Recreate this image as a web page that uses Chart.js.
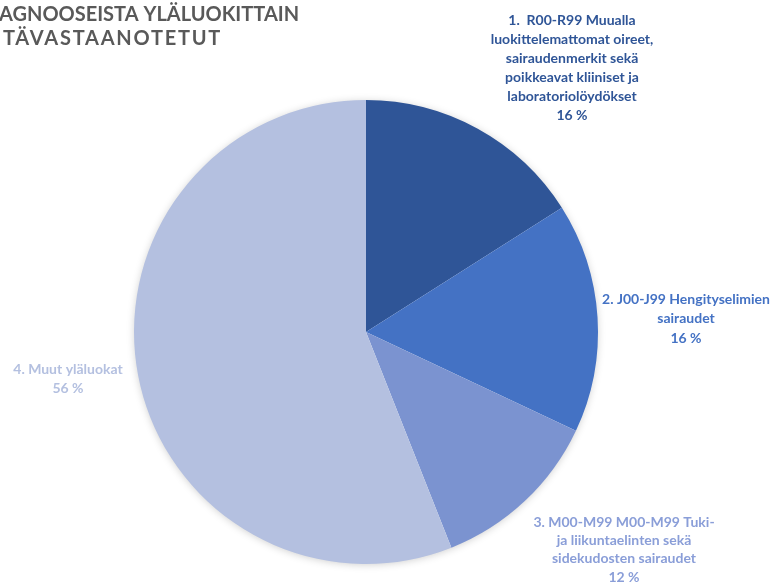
<!DOCTYPE html>
<html>
<head>
<meta charset="utf-8">
<script src="https://cdn.jsdelivr.net/npm/chart.js@4"></script>
<style>
  html, body { margin: 0; padding: 0; background: #ffffff; }
  #wrap { position: relative; width: 781px; height: 582px; overflow: hidden; }
</style>
</head>
<body>
<div id="wrap"><canvas id="diagChart" width="781" height="582"></canvas></div>
<script>
// Diagnoosit yläluokittain (%)
const categories = [
    ['1.  R00-R99 Muualla', 'luokittelemattomat oireet,', 'sairaudenmerkit sekä', 'poikkeavat kliiniset ja', 'laboratoriolöydökset'],
    ['2. J00-J99 Hengityselimien', 'sairaudet'],
    ['3. M00-M99 M00-M99 Tuki-', 'ja liikuntaelinten sekä', 'sidekudosten sairaudet'],
    ['4. Muut yläluokat']
];
const shares = [16, 16, 12, 56];
const sliceColors = ['#2F5597', '#4472C4', '#7B93D0', '#B4C0E0'];
const labelColors = ['#2F5597', '#4472C4', '#8A9ED8', '#B4C0E0'];
const titleLines = ['AGNOOSEISTA YLÄLUOKITTAIN', 'TÄVASTAANOTETUT'];

// title line placement: x, y, width to spread to
const titlePos = [
    { x: -1, y: 15, w: 298 },
    { x: 3, y: 39, w: 219 }
];

// label anchor (center x, first line y, line height) for each slice
const labelPos = [
    { x: 572, y: 20, lh: 19 },
    { x: 686, y: 299, lh: 19.5 },
    { x: 624, y: 522, lh: 18.4 },
    { x: 68, y: 369, lh: 19 }
];

const FONT = 'Lato, "Open Sans", sans-serif';

// soft shadow under the whole pie
const pieShadow = {
    id: 'pieShadow',
    beforeDatasetsDraw(chart) {
        const arc = chart.getDatasetMeta(0).data[0];
        if (!arc) return;
        const ctx = chart.ctx;
        ctx.save();
        ctx.shadowColor = 'rgba(0,0,0,0.22)';
        ctx.shadowBlur = 9;
        ctx.shadowOffsetY = 1;
        ctx.fillStyle = '#ffffff';
        ctx.beginPath();
        ctx.arc(arc.x, arc.y, arc.outerRadius - 1, 0, Math.PI * 2);
        ctx.fill();
        ctx.restore();
    }
};

// title and slice labels
const textLayer = {
    id: 'textLayer',
    afterDraw(chart) {
        const ctx = chart.ctx;
        ctx.save();
        ctx.fillStyle = '#595959';
        ctx.font = 'bold 20px ' + FONT;
        ctx.textAlign = 'left';
        ctx.textBaseline = 'middle';
        titleLines.forEach((t, i) => {
            const p = titlePos[i];
            ctx.letterSpacing = '0px';
            const extra = (p.w - ctx.measureText(t).width) / t.length;
            ctx.letterSpacing = Math.max(0, extra).toFixed(2) + 'px';
            ctx.fillText(t, p.x, p.y);
        });
        ctx.letterSpacing = '0px';

        ctx.textAlign = 'center';
        ctx.font = 'bold 14px ' + FONT;
        chart.data.datasets[0].data.forEach((v, i) => {
            const lines = categories[i].concat([v + ' %']);
            const p = labelPos[i];
            ctx.fillStyle = labelColors[i];
            lines.forEach((t, j) => ctx.fillText(t, p.x, p.y + j * p.lh));
        });
        ctx.restore();
    }
};

new Chart(document.getElementById('diagChart').getContext('2d'), {
    type: 'pie',
    data: {
        labels: categories.map(c => c.join(' ')),
        datasets: [{
            data: shares,
            backgroundColor: sliceColors,
            borderWidth: 0
        }]
    },
    options: {
        responsive: false,
        animation: false,
        layout: { padding: { top: 100, bottom: 18, left: 134, right: 183 } },
        plugins: {
            legend: { display: false },
            tooltip: { enabled: false },
            title: { display: false }
        }
    },
    plugins: [pieShadow, textLayer]
});
</script>
</body>
</html>
